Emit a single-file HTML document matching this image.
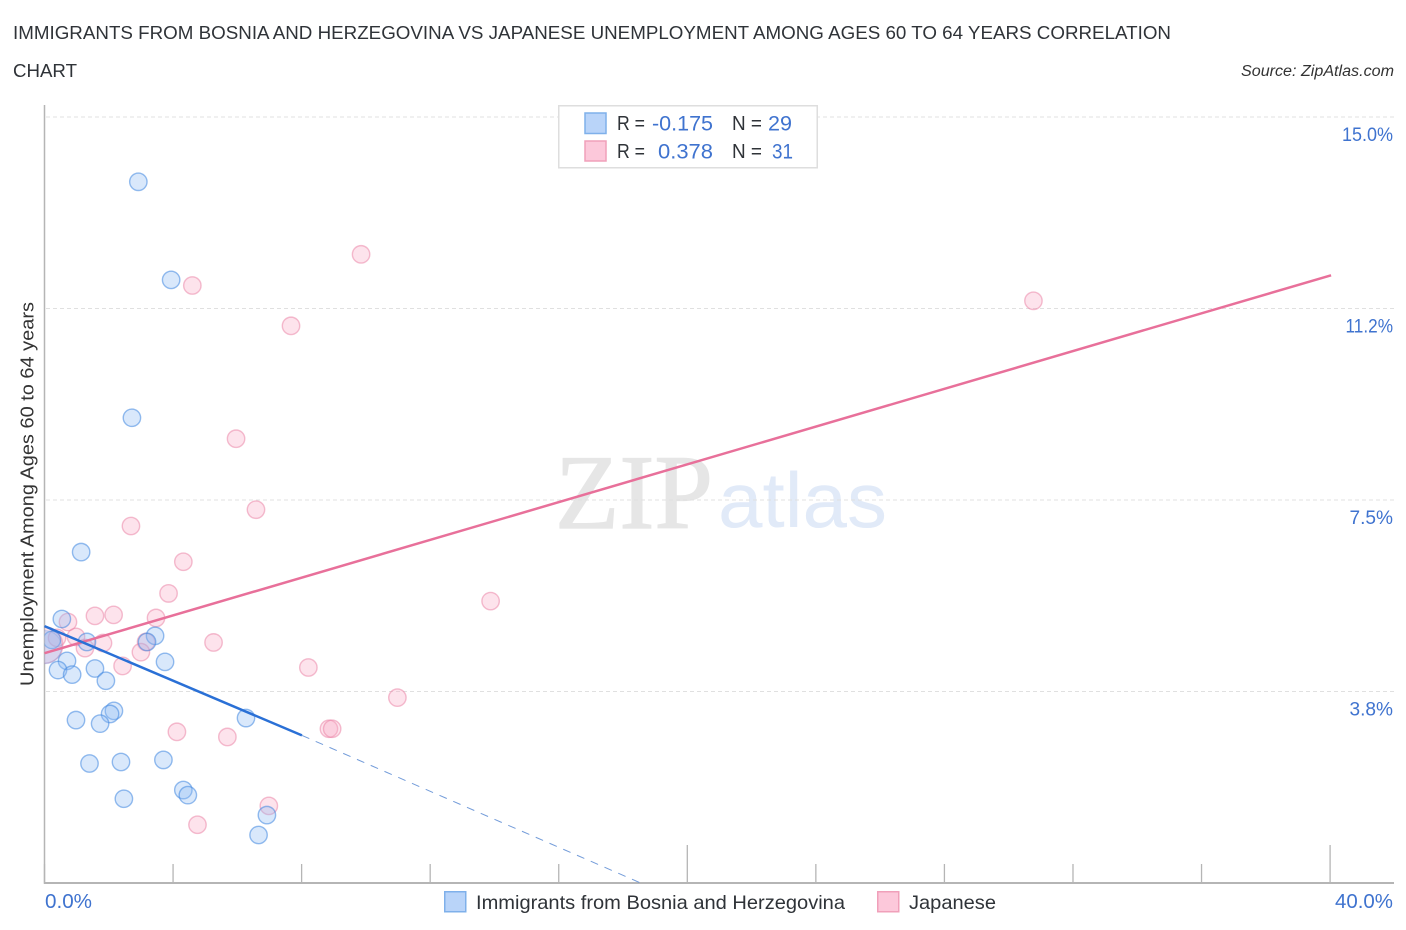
<!DOCTYPE html>
<html lang="en">
<head>
<meta charset="utf-8">
<title>Immigrants from Bosnia and Herzegovina vs Japanese Unemployment Correlation Chart</title>
<style>
html,body{margin:0;padding:0;background:#fff;}
svg{display:block;font-family:"Liberation Sans",sans-serif;}
</style>
</head>
<body>
<svg id="chart" xmlns="http://www.w3.org/2000/svg" width="1406" height="930" viewBox="0 0 1406 930">
  <defs><clipPath id="plot-clip"><rect x="44.5" y="100" width="1350" height="783"/></clipPath></defs>
  <rect x="0" y="0" width="1406" height="930" fill="#fff"/>
  <text x="13" y="39" font-size="18.5" fill="#2f3338" textLength="1158" lengthAdjust="spacingAndGlyphs">IMMIGRANTS FROM BOSNIA AND HERZEGOVINA VS JAPANESE UNEMPLOYMENT AMONG AGES 60 TO 64 YEARS CORRELATION</text>
  <text x="13" y="77" font-size="18.5" fill="#2f3338" textLength="64" lengthAdjust="spacingAndGlyphs">CHART</text>
  <text x="1241" y="76" font-size="15.5" font-style="italic" fill="#333" textLength="153" lengthAdjust="spacingAndGlyphs">Source: ZipAtlas.com</text>
  <g>
    <text x="555" y="528" font-family="'Liberation Serif',serif" font-size="106" fill="#e6e6e6" stroke="#e6e6e6" stroke-width="1.2" textLength="158" lengthAdjust="spacingAndGlyphs">ZIP</text>
    <text x="718" y="527" font-size="78" fill="#e1eaf8" textLength="169" lengthAdjust="spacingAndGlyphs">atlas</text>
  </g>
  <g id="grid"></g>
  <g id="axes"></g>
  <g id="pink-points" clip-path="url(#plot-clip)"></g>
  <g id="blue-points" clip-path="url(#plot-clip)"></g>
  <g id="trends"></g>
  <text transform="translate(33.5,686) rotate(-90)" font-size="18.5" fill="#333" textLength="384" lengthAdjust="spacingAndGlyphs">Unemployment Among Ages 60 to 64 years</text>

  <g>
    <rect x="558.75" y="105.75" width="258.5" height="62" fill="#fff" stroke="#dedede" stroke-width="1.5"/>
    <rect x="585" y="113" width="21" height="20.5" fill="#b9d4f9" stroke="#7fb0ea" stroke-width="1.5"/>
    <rect x="585" y="141" width="21" height="20" fill="#fcc8da" stroke="#f0a0ba" stroke-width="1.5"/>
    <g font-size="20" fill="#2f3338">
      <text x="617" y="130" textLength="28" lengthAdjust="spacingAndGlyphs">R =</text>
      <text x="732" y="130" textLength="30" lengthAdjust="spacingAndGlyphs">N =</text>
      <text x="617" y="158" textLength="28" lengthAdjust="spacingAndGlyphs">R =</text>
      <text x="732" y="158" textLength="30" lengthAdjust="spacingAndGlyphs">N =</text>
    </g>
    <g font-size="21.5" fill="#3f73cf">
      <text x="652" y="130.5" textLength="61" lengthAdjust="spacingAndGlyphs">-0.175</text>
      <text x="768" y="130.5" textLength="24" lengthAdjust="spacingAndGlyphs">29</text>
      <text x="658" y="158.5" textLength="55" lengthAdjust="spacingAndGlyphs">0.378</text>
      <text x="772" y="158.5" textLength="21" lengthAdjust="spacingAndGlyphs">31</text>
    </g>
  </g>

  <g>
    <rect x="444.75" y="891.75" width="21" height="20" fill="#b9d4f9" stroke="#7fb0ea" stroke-width="1.5"/>
    <text x="476" y="909" font-size="19.5" fill="#2f3338" textLength="369" lengthAdjust="spacingAndGlyphs">Immigrants from Bosnia and Herzegovina</text>
    <rect x="877.75" y="891.75" width="21" height="20" fill="#fcc8da" stroke="#f0a0ba" stroke-width="1.5"/>
    <text x="909" y="909" font-size="19.5" fill="#2f3338" textLength="87" lengthAdjust="spacingAndGlyphs">Japanese</text>
  </g>
</svg>
<script>
// Data (x and y in percent)
const xTickValues = [0, 4, 8, 12, 16, 20, 24, 28, 32, 36, 40];
const xMajorTicks = [20, 40];
const xEdgeLabels = ['0.0%', '40.0%'];
const yTickValues = [3.75, 7.5, 11.25, 15];
const yTickLabels = ['3.8%', '7.5%', '11.2%', '15.0%'];

const blueX = [2.92,3.94,2.72,1.14,0.54,1.32,3.44,3.19,0.70,1.57,3.75,0.42,0.86,1.91,2.16,2.04,1.73,0.98,6.27,1.40,2.38,3.70,4.32,4.46,2.47,6.92,6.66,0.23,0.02];
const blueY = [13.73,11.81,9.11,6.48,5.17,4.72,4.84,4.72,4.35,4.20,4.33,4.17,4.08,3.96,3.37,3.31,3.12,3.19,3.23,2.34,2.37,2.41,1.82,1.72,1.65,1.33,0.94,4.76,4.62];
const blueWeight = [1,1,1,1,1,1,1,1,1,1,1,1,1,1,1,1,1,1,1,1,1,1,1,1,1,1,1,1,3.6];

const pinkX = [9.85,4.60,7.67,30.77,5.96,6.58,2.69,4.32,3.86,13.88,1.57,2.15,0.73,3.47,0.98,1.26,1.82,3.16,3.00,5.26,2.43,8.21,10.98,4.12,5.69,8.85,8.95,6.98,4.76,0.00,0.39];
const pinkY = [12.31,11.70,10.91,11.40,8.70,7.31,6.99,6.29,5.67,5.52,5.23,5.25,5.11,5.19,4.82,4.60,4.70,4.72,4.52,4.71,4.25,4.22,3.63,2.96,2.86,3.02,3.02,1.51,1.14,4.66,4.80];
const pinkWeight = [1,1,1,1,1,1,1,1,1,1,1,1,1,1,1,1,1,1,1,1,1,1,1,1,1,1,1,1,1,4.4,1];

const blueTrendX = [0, 8.01];
const blueTrendY = [5.03, 2.89];
const blueExtensionX = [8.01, 18.55];
const blueExtensionY = [2.89, 0];
const pinkTrendX = [0, 40.03];
const pinkTrendY = [4.5, 11.9];

// Axis functions
function xScale(v) { return 44.5 + v * 32.14; }
function yScale(v) { return 883 - v * 51.07; }
function radius(w) { return 8.7 * Math.sqrt(w); }

const NS = 'http://www.w3.org/2000/svg';
function make(tag, attrs, parent) {
  const el = document.createElementNS(NS, tag);
  for (const k in attrs) el.setAttribute(k, attrs[k]);
  parent.appendChild(el);
  return el;
}
// Approximate label width for the reference's proportional-digit face
function labelWidth(s, unit) {
  let w = 0;
  for (const ch of s) {
    w += ch === '1' ? 7.5 : ch === '.' ? 4.5 : ch === '%' ? 17 : 11;
  }
  return w * unit;
}

const grid = document.getElementById('grid');
yTickValues.forEach(function (v) {
  const line = make('line', {x1: 46, x2: 1394, y1: yScale(v), y2: yScale(v), stroke: '#e0e0e0', 'stroke-width': 1, 'stroke-dasharray': '4 3'}, grid);
  
  
});

const axes = document.getElementById('axes');
const yAxisLine = make('line', {x1: 44.5, x2: 44.5, y1: 105, y2: 884, stroke: '#b5b5b5', 'stroke-width': 1.5}, axes);


const xAxisLine = make('line', {x1: 44, x2: 1394, y1: 883, y2: 883, stroke: '#b5b5b5', 'stroke-width': 2}, axes);



xTickValues.forEach(function (v) {
  const top = xMajorTicks.indexOf(v) >= 0 ? 845 : 864;
  const tick = make('line', {x1: xScale(v), x2: xScale(v), y1: top, y2: 883, stroke: '#b5b5b5', 'stroke-width': 1.3}, axes);
  
  
});

yTickValues.forEach(function (v, i) {
  const label = make('text', {x: 1393, y: yScale(v) + 24, 'text-anchor': 'end', 'font-size': 19, fill: '#3f73cf', textLength: labelWidth(yTickLabels[i], 1), lengthAdjust: 'spacingAndGlyphs'}, axes);
  label.textContent = yTickLabels[i];
  
  
});

const xLabelStart = make('text', {x: 45, y: 908, 'font-size': 20, fill: '#3f73cf', textLength: 47, lengthAdjust: 'spacingAndGlyphs'}, axes);
xLabelStart.textContent = xEdgeLabels[0];


const xLabelEnd = make('text', {x: 1393, y: 908, 'text-anchor': 'end', 'font-size': 20, fill: '#3f73cf', textLength: 58, lengthAdjust: 'spacingAndGlyphs'}, axes);
xLabelEnd.textContent = xEdgeLabels[1];



const pinkGroup = document.getElementById('pink-points');
pinkX.forEach(function (v, i) {
  const c = make('circle', {cx: xScale(v), cy: yScale(pinkY[i]), r: radius(pinkWeight[i]), fill: '#f8a9c4', 'fill-opacity': 0.32, stroke: '#ea7ea2', 'stroke-opacity': 0.5, 'stroke-width': 1.4}, pinkGroup);
  
  
});

const blueGroup = document.getElementById('blue-points');
blueX.forEach(function (v, i) {
  const c = make('circle', {cx: xScale(v), cy: yScale(blueY[i]), r: radius(blueWeight[i]), fill: '#90bcf2', 'fill-opacity': 0.34, stroke: '#3f86e0', 'stroke-opacity': blueWeight[i] > 1 ? 0.2 : 0.55, 'stroke-width': 1.4}, blueGroup);
  
  
});

const trends = document.getElementById('trends');
const pinkLine = make('line', {x1: xScale(pinkTrendX[0]), y1: yScale(pinkTrendY[0]), x2: xScale(pinkTrendX[1]), y2: yScale(pinkTrendY[1]), stroke: '#e8709a', 'stroke-width': 2.5}, trends);


const blueLine = make('line', {x1: xScale(blueTrendX[0]), y1: yScale(blueTrendY[0]), x2: xScale(blueTrendX[1]), y2: yScale(blueTrendY[1]), stroke: '#2a70d6', 'stroke-width': 2.5}, trends);


const blueDash = make('line', {x1: xScale(blueExtensionX[0]), y1: yScale(blueExtensionY[0]), x2: xScale(blueExtensionX[1]), y2: yScale(blueExtensionY[1]), stroke: '#4f82cf', 'stroke-opacity': 0.8, 'stroke-width': 1, 'stroke-dasharray': '8 7'}, trends);


</script>
</body>
</html>
